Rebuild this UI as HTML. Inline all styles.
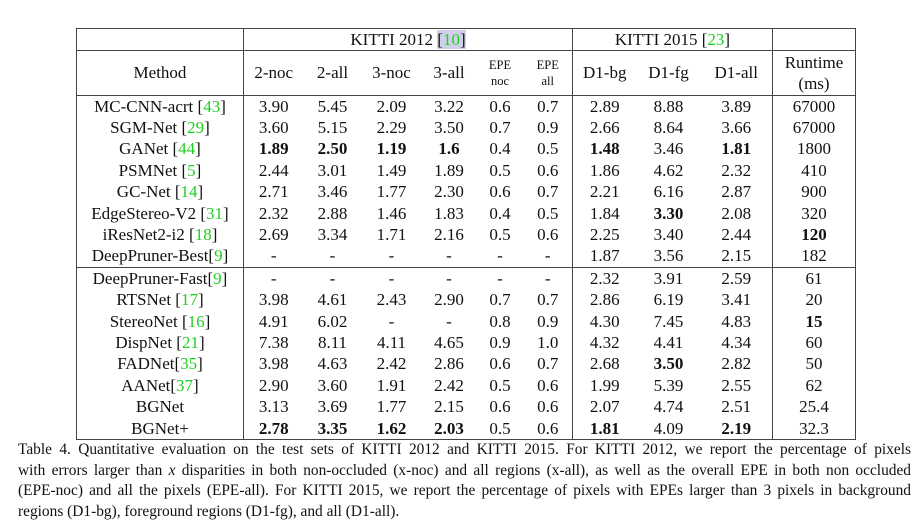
<!DOCTYPE html>
<html><head><meta charset="utf-8"><style>
body{margin:0;background:#fff;width:924px;height:532px;overflow:hidden;font-family:"Liberation Serif",serif;color:#111}
table{position:absolute;left:76px;top:28px;border-collapse:collapse;font-size:17px;table-layout:fixed}
td{text-align:center;padding:0;line-height:16px;white-space:nowrap}
.g{color:#1fd01f}
.bl{border-left:1.5px solid #444}
.h1 td{height:21px;border-top:1.5px solid #444;border-bottom:1.5px solid #444}
.h2 td{height:44px;border-bottom:1.5px solid #444}
.d td{height:21.4px}
.sep td{border-top:1.5px solid #444}
.last td{border-bottom:1.5px solid #444}
.sm{font-size:12.5px;line-height:16px}
b{font-weight:bold}
.cap{position:absolute;left:18px;width:893px;font-size:15.4px;line-height:20.5px;top:440px}
.cap div{text-align:justify;text-align-last:justify;white-space:nowrap}
.cap div.e{text-align-last:left}
</style></head><body>
<table>
<colgroup><col style="width:167px"><col style="width:60px"><col style="width:58px"><col style="width:60px"><col style="width:55px"><col style="width:47px"><col style="width:49px"><col style="width:64px"><col style="width:64px"><col style="width:72px"><col style="width:83px"></colgroup>
<tr class="h1"><td class="bl"></td><td class="bl" colspan="6">KITTI 2012 <span style="background:#d0d0ea">[<span class="g">10</span>]</span></td><td class="bl" colspan="3">KITTI 2015 [<span class="g">23</span>]</td><td class="bl" style="border-right:1.5px solid #444"></td></tr>
<tr class="h2"><td class="bl">Method</td><td class="bl">2-noc</td><td>2-all</td><td>3-noc</td><td>3-all</td><td class="sm">EPE<br>noc</td><td class="sm">EPE<br>all</td><td class="bl">D1-bg</td><td>D1-fg</td><td>D1-all</td><td class="bl" style="border-right:1.5px solid #444;line-height:21px">Runtime<br>(ms)</td></tr>
<tr class="d"><td class="bl">MC-CNN-acrt [<span class="g">43</span>]</td><td class="bl">3.90</td><td>5.45</td><td>2.09</td><td>3.22</td><td>0.6</td><td>0.7</td><td class="bl">2.89</td><td>8.88</td><td>3.89</td><td class="bl" style="border-right:1.5px solid #444">67000</td></tr>
<tr class="d"><td class="bl">SGM-Net [<span class="g">29</span>]</td><td class="bl">3.60</td><td>5.15</td><td>2.29</td><td>3.50</td><td>0.7</td><td>0.9</td><td class="bl">2.66</td><td>8.64</td><td>3.66</td><td class="bl" style="border-right:1.5px solid #444">67000</td></tr>
<tr class="d"><td class="bl">GANet [<span class="g">44</span>]</td><td class="bl"><b>1.89</b></td><td><b>2.50</b></td><td><b>1.19</b></td><td><b>1.6</b></td><td>0.4</td><td>0.5</td><td class="bl"><b>1.48</b></td><td>3.46</td><td><b>1.81</b></td><td class="bl" style="border-right:1.5px solid #444">1800</td></tr>
<tr class="d"><td class="bl">PSMNet [<span class="g">5</span>]</td><td class="bl">2.44</td><td>3.01</td><td>1.49</td><td>1.89</td><td>0.5</td><td>0.6</td><td class="bl">1.86</td><td>4.62</td><td>2.32</td><td class="bl" style="border-right:1.5px solid #444">410</td></tr>
<tr class="d"><td class="bl">GC-Net [<span class="g">14</span>]</td><td class="bl">2.71</td><td>3.46</td><td>1.77</td><td>2.30</td><td>0.6</td><td>0.7</td><td class="bl">2.21</td><td>6.16</td><td>2.87</td><td class="bl" style="border-right:1.5px solid #444">900</td></tr>
<tr class="d"><td class="bl">EdgeStereo-V2 [<span class="g">31</span>]</td><td class="bl">2.32</td><td>2.88</td><td>1.46</td><td>1.83</td><td>0.4</td><td>0.5</td><td class="bl">1.84</td><td><b>3.30</b></td><td>2.08</td><td class="bl" style="border-right:1.5px solid #444">320</td></tr>
<tr class="d"><td class="bl">iResNet2-i2 [<span class="g">18</span>]</td><td class="bl">2.69</td><td>3.34</td><td>1.71</td><td>2.16</td><td>0.5</td><td>0.6</td><td class="bl">2.25</td><td>3.40</td><td>2.44</td><td class="bl" style="border-right:1.5px solid #444"><b>120</b></td></tr>
<tr class="d"><td class="bl">DeepPruner-Best[<span class="g">9</span>]</td><td class="bl">-</td><td>-</td><td>-</td><td>-</td><td>-</td><td>-</td><td class="bl">1.87</td><td>3.56</td><td>2.15</td><td class="bl" style="border-right:1.5px solid #444">182</td></tr>
<tr class="d sep"><td class="bl">DeepPruner-Fast[<span class="g">9</span>]</td><td class="bl">-</td><td>-</td><td>-</td><td>-</td><td>-</td><td>-</td><td class="bl">2.32</td><td>3.91</td><td>2.59</td><td class="bl" style="border-right:1.5px solid #444">61</td></tr>
<tr class="d"><td class="bl">RTSNet [<span class="g">17</span>]</td><td class="bl">3.98</td><td>4.61</td><td>2.43</td><td>2.90</td><td>0.7</td><td>0.7</td><td class="bl">2.86</td><td>6.19</td><td>3.41</td><td class="bl" style="border-right:1.5px solid #444">20</td></tr>
<tr class="d"><td class="bl">StereoNet [<span class="g">16</span>]</td><td class="bl">4.91</td><td>6.02</td><td>-</td><td>-</td><td>0.8</td><td>0.9</td><td class="bl">4.30</td><td>7.45</td><td>4.83</td><td class="bl" style="border-right:1.5px solid #444"><b>15</b></td></tr>
<tr class="d"><td class="bl">DispNet [<span class="g">21</span>]</td><td class="bl">7.38</td><td>8.11</td><td>4.11</td><td>4.65</td><td>0.9</td><td>1.0</td><td class="bl">4.32</td><td>4.41</td><td>4.34</td><td class="bl" style="border-right:1.5px solid #444">60</td></tr>
<tr class="d"><td class="bl">FADNet[<span class="g">35</span>]</td><td class="bl">3.98</td><td>4.63</td><td>2.42</td><td>2.86</td><td>0.6</td><td>0.7</td><td class="bl">2.68</td><td><b>3.50</b></td><td>2.82</td><td class="bl" style="border-right:1.5px solid #444">50</td></tr>
<tr class="d"><td class="bl">AANet[<span class="g">37</span>]</td><td class="bl">2.90</td><td>3.60</td><td>1.91</td><td>2.42</td><td>0.5</td><td>0.6</td><td class="bl">1.99</td><td>5.39</td><td>2.55</td><td class="bl" style="border-right:1.5px solid #444">62</td></tr>
<tr class="d"><td class="bl">BGNet</td><td class="bl">3.13</td><td>3.69</td><td>1.77</td><td>2.15</td><td>0.6</td><td>0.6</td><td class="bl">2.07</td><td>4.74</td><td>2.51</td><td class="bl" style="border-right:1.5px solid #444">25.4</td></tr>
<tr class="d last"><td class="bl">BGNet+</td><td class="bl"><b>2.78</b></td><td><b>3.35</b></td><td><b>1.62</b></td><td><b>2.03</b></td><td>0.5</td><td>0.6</td><td class="bl"><b>1.81</b></td><td>4.09</td><td><b>2.19</b></td><td class="bl" style="border-right:1.5px solid #444">32.3</td></tr>
</table>
<div class="cap">
<div>Table 4. Quantitative evaluation on the test sets of KITTI 2012 and KITTI 2015. For KITTI 2012, we report the percentage of pixels</div>
<div>with errors larger than <i>x</i> disparities in both non-occluded (x-noc) and all regions (x-all), as well as the overall EPE in both non occluded</div>
<div>(EPE-noc) and all the pixels (EPE-all). For KITTI 2015, we report the percentage of pixels with EPEs larger than 3 pixels in background</div>
<div class="e">regions (D1-bg), foreground regions (D1-fg), and all (D1-all).</div>
</div>
</body></html>
